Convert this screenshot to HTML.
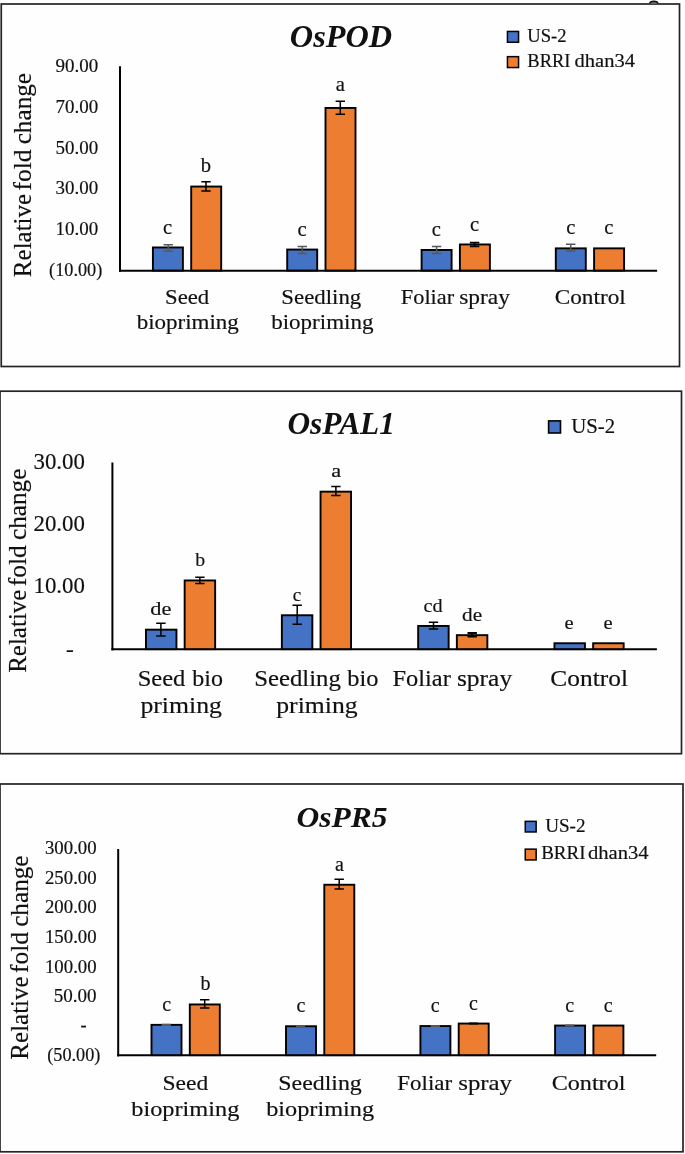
<!DOCTYPE html>
<html lang="en">
<head>
<meta charset="utf-8">
<title>Relative fold change of OsPOD, OsPAL1 and OsPR5</title>
<style>
html,body{margin:0;padding:0;background:#fff;}
body{width:685px;height:1154px;overflow:hidden;}
svg{display:block;font-family:"Liberation Serif","DejaVu Serif",serif;}
text{white-space:pre;stroke:#111;stroke-width:0.18px;stroke-linejoin:round;}text[font-weight=bold]{stroke:none;}
</style>
</head>
<body>
<svg width="685" height="1154" viewBox="0 0 685 1154" role="img" aria-label="Bar charts of relative fold change">
<rect x="1.25" y="4.00" width="678.25" height="362.50" fill="#fefefe" stroke="#242424" stroke-width="1.7"/>
<rect x="0.00" y="391.20" width="681.50" height="362.50" fill="#fefefe" stroke="#242424" stroke-width="1.7"/>
<rect x="0.00" y="784.00" width="683.00" height="367.80" fill="#fefefe" stroke="#242424" stroke-width="1.7"/>
<path d="M649.9 3.6A3.9 2.3 0 0 1 657.7 3.6" fill="#8a8a8a" stroke="#111" stroke-width="1.7"/>
<text transform="translate(289.85 47.20) scale(1.0420 1.0000)" font-size="31" font-weight="bold" font-style="italic" fill="#111">OsPOD</text>
<rect x="507.45" y="31.45" width="11.10" height="10.80" fill="#4472C4" stroke="#000" stroke-width="1.5"/>
<rect x="507.45" y="56.65" width="11.10" height="10.90" fill="#ED7D31" stroke="#000" stroke-width="1.5"/>
<text transform="translate(527.35 41.90) scale(1.0038 1.0000)" font-size="18.5" fill="#111">US-2</text>
<text y="66.90" font-size="18.5" fill="#111"><tspan x="527.35" textLength="43.20" lengthAdjust="spacingAndGlyphs">BRRI</tspan> <tspan x="574.55" textLength="60.50" lengthAdjust="spacingAndGlyphs">dhan34</tspan></text>
<text transform="translate(31.00 0) rotate(-90)" font-size="24.9" fill="#111"><tspan x="-277.15" textLength="83.30" lengthAdjust="spacingAndGlyphs">Relative</tspan> <tspan x="-190.45" textLength="40.90" lengthAdjust="spacingAndGlyphs">fold</tspan> <tspan x="-144.35" textLength="71.39" lengthAdjust="spacingAndGlyphs">change</tspan></text>
<text transform="translate(55.45 72.00) scale(0.9732 1.0000)" font-size="19.5" fill="#111">90.00</text>
<text transform="translate(55.45 112.80) scale(0.9732 1.0000)" font-size="19.5" fill="#111">70.00</text>
<text transform="translate(55.45 153.60) scale(0.9732 1.0000)" font-size="19.5" fill="#111">50.00</text>
<text transform="translate(55.45 194.40) scale(0.9732 1.0000)" font-size="19.5" fill="#111">30.00</text>
<text transform="translate(55.45 235.20) scale(0.9732 1.0000)" font-size="19.5" fill="#111">10.00</text>
<text transform="translate(49.05 276.00) scale(0.9374 1.0000)" font-size="19.5" fill="#111">(10.00)</text>
<line x1="120.00" y1="66.30" x2="120.00" y2="271.80" stroke="#000" stroke-width="2" stroke-linecap="butt"/>
<line x1="119.00" y1="270.70" x2="657.10" y2="270.70" stroke="#000" stroke-width="2.1" stroke-linecap="butt"/>
<rect x="152.90" y="247.45" width="30.00" height="23.10" fill="#4472C4" stroke="#000" stroke-width="1.9"/>
<rect x="191.20" y="186.55" width="30.00" height="84.00" fill="#ED7D31" stroke="#000" stroke-width="1.9"/>
<rect x="287.20" y="249.55" width="30.00" height="21.00" fill="#4472C4" stroke="#000" stroke-width="1.9"/>
<rect x="325.50" y="107.95" width="30.00" height="162.60" fill="#ED7D31" stroke="#000" stroke-width="1.9"/>
<rect x="421.60" y="249.95" width="30.00" height="20.60" fill="#4472C4" stroke="#000" stroke-width="1.9"/>
<rect x="459.90" y="244.45" width="30.00" height="26.10" fill="#ED7D31" stroke="#000" stroke-width="1.9"/>
<rect x="555.80" y="248.35" width="30.00" height="22.20" fill="#4472C4" stroke="#000" stroke-width="1.9"/>
<rect x="594.10" y="248.35" width="30.00" height="22.20" fill="#ED7D31" stroke="#000" stroke-width="1.9"/>
<path d="M163.50 244.80H172.90M163.50 251.00H172.90M168.20 244.80V251.00" stroke="#595959" stroke-width="1.5" fill="none"/>
<path d="M201.30 181.70H210.70M201.30 191.00H210.70M206.00 181.70V191.00" stroke="#000" stroke-width="1.5" fill="none"/>
<path d="M297.60 246.60H307.00M297.60 253.50H307.00M302.30 246.60V253.50" stroke="#595959" stroke-width="1.5" fill="none"/>
<path d="M335.60 101.30H345.00M335.60 114.20H345.00M340.30 101.30V114.20" stroke="#000" stroke-width="1.5" fill="none"/>
<path d="M431.90 246.60H441.30M431.90 253.50H441.30M436.60 246.60V253.50" stroke="#595959" stroke-width="1.5" fill="none"/>
<path d="M469.90 242.60H479.30M469.90 246.30H479.30M474.60 242.60V246.30" stroke="#000" stroke-width="1.8" fill="none"/>
<path d="M566.00 244.30H575.40M566.00 251.00H575.40M570.70 244.30V251.00" stroke="#595959" stroke-width="1.5" fill="none"/>
<text transform="translate(163.03 233.50) scale(1.0000 1.0000)" font-size="20.6" fill="#111">c</text>
<text transform="translate(200.85 171.70) scale(1.0000 1.0000)" font-size="20.6" fill="#111">b</text>
<text transform="translate(297.43 236.10) scale(1.0000 1.0000)" font-size="20.6" fill="#111">c</text>
<text transform="translate(335.83 91.00) scale(1.0000 1.0000)" font-size="20.6" fill="#111">a</text>
<text transform="translate(431.83 236.10) scale(1.0000 1.0000)" font-size="20.6" fill="#111">c</text>
<text transform="translate(470.03 230.70) scale(1.0000 1.0000)" font-size="20.6" fill="#111">c</text>
<text transform="translate(566.13 233.70) scale(1.0000 1.0000)" font-size="20.6" fill="#111">c</text>
<text transform="translate(604.33 233.70) scale(1.0000 1.0000)" font-size="20.6" fill="#111">c</text>
<text transform="translate(165.05 303.60) scale(1.0725 1.0000)" font-size="21.2" fill="#111">Seed</text>
<text transform="translate(136.65 329.20) scale(1.0848 1.0000)" font-size="21.2" fill="#111">biopriming</text>
<text transform="translate(281.35 303.80) scale(1.0782 1.0000)" font-size="21.2" fill="#111">Seedling</text>
<text transform="translate(271.15 329.20) scale(1.0869 1.0000)" font-size="21.2" fill="#111">biopriming</text>
<text y="303.80" font-size="21.2" fill="#111"><tspan x="400.85" textLength="53.29" lengthAdjust="spacingAndGlyphs">Foliar</tspan> <tspan x="459.15" textLength="50.80" lengthAdjust="spacingAndGlyphs">spray</tspan></text>
<text transform="translate(554.65 303.80) scale(1.0974 1.0000)" font-size="21.2" fill="#111">Control</text>
<text transform="translate(287.45 433.80) scale(1.0122 1.0000)" font-size="31" font-weight="bold" font-style="italic" fill="#111">OsPAL1</text>
<rect x="548.60" y="420.90" width="11.90" height="12.10" fill="#4472C4" stroke="#000" stroke-width="1.6"/>
<text transform="translate(571.15 433.20) scale(0.9925 1.0000)" font-size="21.0" fill="#111">US-2</text>
<text transform="translate(25.80 0) rotate(-90)" font-size="24.9" fill="#111"><tspan x="-672.85" textLength="83.30" lengthAdjust="spacingAndGlyphs">Relative</tspan> <tspan x="-586.15" textLength="40.90" lengthAdjust="spacingAndGlyphs">fold</tspan> <tspan x="-540.05" textLength="71.39" lengthAdjust="spacingAndGlyphs">change</tspan></text>
<text transform="translate(33.45 469.00) scale(0.9699 1.0000)" font-size="23.6" fill="#111">30.00</text>
<text transform="translate(33.45 531.10) scale(0.9699 1.0000)" font-size="23.6" fill="#111">20.00</text>
<text transform="translate(33.45 593.20) scale(0.9699 1.0000)" font-size="23.6" fill="#111">10.00</text>
<text transform="translate(65.95 656.80) scale(0.9925 1.0000)" font-size="23.6" fill="#111">-</text>
<line x1="112.40" y1="462.50" x2="112.40" y2="650.40" stroke="#000" stroke-width="2" stroke-linecap="butt"/>
<line x1="111.40" y1="649.30" x2="656.90" y2="649.30" stroke="#000" stroke-width="2.1" stroke-linecap="butt"/>
<rect x="145.95" y="629.65" width="30.50" height="19.50" fill="#4472C4" stroke="#000" stroke-width="1.9"/>
<rect x="184.65" y="580.45" width="30.50" height="68.70" fill="#ED7D31" stroke="#000" stroke-width="1.9"/>
<rect x="281.85" y="615.25" width="30.50" height="33.90" fill="#4472C4" stroke="#000" stroke-width="1.9"/>
<rect x="320.55" y="491.65" width="30.50" height="157.50" fill="#ED7D31" stroke="#000" stroke-width="1.9"/>
<rect x="418.15" y="625.95" width="30.50" height="23.20" fill="#4472C4" stroke="#000" stroke-width="1.9"/>
<rect x="456.85" y="635.15" width="30.50" height="14.00" fill="#ED7D31" stroke="#000" stroke-width="1.9"/>
<rect x="554.45" y="643.25" width="30.50" height="5.90" fill="#4472C4" stroke="#000" stroke-width="1.9"/>
<rect x="593.15" y="643.25" width="30.50" height="5.90" fill="#ED7D31" stroke="#000" stroke-width="1.9"/>
<path d="M156.20 623.20H165.60M156.20 635.90H165.60M160.90 623.20V635.90" stroke="#000" stroke-width="1.5" fill="none"/>
<path d="M195.20 577.20H204.60M195.20 583.50H204.60M199.90 577.20V583.50" stroke="#000" stroke-width="1.5" fill="none"/>
<path d="M292.50 605.30H301.90M292.50 624.30H301.90M297.20 605.30V624.30" stroke="#000" stroke-width="1.5" fill="none"/>
<path d="M331.20 486.60H340.60M331.20 495.60H340.60M335.90 486.60V495.60" stroke="#000" stroke-width="1.5" fill="none"/>
<path d="M428.80 622.30H438.20M428.80 629.00H438.20M433.50 622.30V629.00" stroke="#000" stroke-width="1.5" fill="none"/>
<path d="M467.50 633.00H476.90M467.50 636.60H476.90M472.20 633.00V636.60" stroke="#000" stroke-width="1.8" fill="none"/>
<text transform="translate(150.35 615.20) scale(1.1404 1.0000)" font-size="19.6" fill="#111">de</text>
<text transform="translate(195.25 566.20) scale(1.0102 1.0000)" font-size="19.6" fill="#111">b</text>
<text transform="translate(331.25 477.20) scale(1.1376 1.0000)" font-size="19.6" fill="#111">a</text>
<text transform="translate(292.75 601.00) scale(0.9767 1.0000)" font-size="19.6" fill="#111">c</text>
<text transform="translate(423.55 611.70) scale(1.0323 1.0000)" font-size="19.6" fill="#111">cd</text>
<text transform="translate(462.05 620.50) scale(1.0863 1.0000)" font-size="19.6" fill="#111">de</text>
<text transform="translate(564.55 629.00) scale(1.0457 1.0000)" font-size="19.6" fill="#111">e</text>
<text transform="translate(603.45 629.00) scale(1.0457 1.0000)" font-size="19.6" fill="#111">e</text>
<text y="685.70" font-size="22.8" fill="#111"><tspan x="137.65" textLength="47.70" lengthAdjust="spacingAndGlyphs">Seed</tspan> <tspan x="192.25" textLength="30.70" lengthAdjust="spacingAndGlyphs">bio</tspan></text>
<text transform="translate(140.45 713.20) scale(1.1287 1.0000)" font-size="22.8" fill="#111">priming</text>
<text y="685.70" font-size="22.8" fill="#111"><tspan x="254.15" textLength="86.69" lengthAdjust="spacingAndGlyphs">Seedling</tspan> <tspan x="347.35" textLength="31.10" lengthAdjust="spacingAndGlyphs">bio</tspan></text>
<text transform="translate(276.25 713.20) scale(1.1273 1.0000)" font-size="22.8" fill="#111">priming</text>
<text y="685.50" font-size="22.8" fill="#111"><tspan x="392.55" textLength="58.29" lengthAdjust="spacingAndGlyphs">Foliar</tspan> <tspan x="456.95" textLength="55.20" lengthAdjust="spacingAndGlyphs">spray</tspan></text>
<text transform="translate(550.35 685.90) scale(1.1151 1.0000)" font-size="22.8" fill="#111">Control</text>
<text transform="translate(296.45 826.50) scale(1.0327 1.0000)" font-size="30.5" font-weight="bold" font-style="italic" fill="#111">OsPR5</text>
<rect x="525.25" y="821.35" width="10.90" height="10.60" fill="#4472C4" stroke="#000" stroke-width="1.5"/>
<rect x="525.25" y="849.15" width="10.90" height="10.80" fill="#ED7D31" stroke="#000" stroke-width="1.5"/>
<text transform="translate(545.15 831.80) scale(1.0345 1.0000)" font-size="18.5" fill="#111">US-2</text>
<text y="858.90" font-size="18.5" fill="#111"><tspan x="541.15" textLength="44.40" lengthAdjust="spacingAndGlyphs">BRRI</tspan> <tspan x="587.95" textLength="60.70" lengthAdjust="spacingAndGlyphs">dhan34</tspan></text>
<text transform="translate(27.90 0) rotate(-90)" font-size="24.9" fill="#111"><tspan x="-1059.65" textLength="83.30" lengthAdjust="spacingAndGlyphs">Relative</tspan> <tspan x="-972.95" textLength="40.90" lengthAdjust="spacingAndGlyphs">fold</tspan> <tspan x="-926.85" textLength="71.39" lengthAdjust="spacingAndGlyphs">change</tspan></text>
<text transform="translate(44.95 854.30) scale(0.9641 1.0000)" font-size="19.5" fill="#111">300.00</text>
<text transform="translate(44.95 883.85) scale(0.9641 1.0000)" font-size="19.5" fill="#111">250.00</text>
<text transform="translate(44.95 913.40) scale(0.9641 1.0000)" font-size="19.5" fill="#111">200.00</text>
<text transform="translate(44.95 942.95) scale(0.9641 1.0000)" font-size="19.5" fill="#111">150.00</text>
<text transform="translate(44.95 972.50) scale(0.9641 1.0000)" font-size="19.5" fill="#111">100.00</text>
<text transform="translate(53.75 1002.05) scale(0.9778 1.0000)" font-size="19.5" fill="#111">50.00</text>
<text transform="translate(80.45 1030.60) scale(0.9394 1.0000)" font-size="19.5" fill="#111">-</text>
<text transform="translate(47.25 1061.15) scale(0.9356 1.0000)" font-size="19.5" fill="#111">(50.00)</text>
<line x1="118.20" y1="849.00" x2="118.20" y2="1056.40" stroke="#000" stroke-width="2" stroke-linecap="butt"/>
<line x1="117.20" y1="1055.30" x2="656.20" y2="1055.30" stroke="#000" stroke-width="2.1" stroke-linecap="butt"/>
<rect x="151.50" y="1024.85" width="30.00" height="30.30" fill="#4472C4" stroke="#000" stroke-width="1.9"/>
<rect x="189.80" y="1004.45" width="30.00" height="50.70" fill="#ED7D31" stroke="#000" stroke-width="1.9"/>
<rect x="286.00" y="1026.25" width="30.00" height="28.90" fill="#4472C4" stroke="#000" stroke-width="1.9"/>
<rect x="324.30" y="884.75" width="30.00" height="170.40" fill="#ED7D31" stroke="#000" stroke-width="1.9"/>
<rect x="420.40" y="1026.05" width="30.00" height="29.10" fill="#4472C4" stroke="#000" stroke-width="1.9"/>
<rect x="458.70" y="1023.55" width="30.00" height="31.60" fill="#ED7D31" stroke="#000" stroke-width="1.9"/>
<rect x="555.10" y="1025.55" width="30.00" height="29.60" fill="#4472C4" stroke="#000" stroke-width="1.9"/>
<rect x="593.40" y="1025.55" width="30.00" height="29.60" fill="#ED7D31" stroke="#000" stroke-width="1.9"/>
<path d="M161.70 1024.30H170.90M161.70 1025.50H170.90M166.30 1024.30V1025.50" stroke="#595959" stroke-width="1.2" fill="none"/>
<path d="M200.00 999.80H209.40M200.00 1008.00H209.40M204.70 999.80V1008.00" stroke="#000" stroke-width="1.5" fill="none"/>
<path d="M296.00 1025.70H305.20M296.00 1026.70H305.20M300.60 1025.70V1026.70" stroke="#595959" stroke-width="1.2" fill="none"/>
<path d="M334.50 879.30H343.90M334.50 889.10H343.90M339.20 879.30V889.10" stroke="#000" stroke-width="1.5" fill="none"/>
<path d="M430.70 1025.50H439.90M430.70 1026.50H439.90M435.30 1025.50V1026.50" stroke="#595959" stroke-width="1.2" fill="none"/>
<path d="M468.90 1023.00H478.10M468.90 1024.00H478.10M473.50 1023.00V1024.00" stroke="#000" stroke-width="1.2" fill="none"/>
<path d="M565.00 1025.00H574.20M565.00 1026.00H574.20M569.60 1025.00V1026.00" stroke="#595959" stroke-width="1.2" fill="none"/>
<text transform="translate(162.16 1011.40) scale(1.0000 1.0000)" font-size="20.0" fill="#111">c</text>
<text transform="translate(200.40 990.20) scale(1.0000 1.0000)" font-size="20.0" fill="#111">b</text>
<text transform="translate(296.46 1012.00) scale(1.0000 1.0000)" font-size="20.0" fill="#111">c</text>
<text transform="translate(335.06 870.50) scale(1.0000 1.0000)" font-size="20.0" fill="#111">a</text>
<text transform="translate(430.86 1012.00) scale(1.0000 1.0000)" font-size="20.0" fill="#111">c</text>
<text transform="translate(469.06 1009.90) scale(1.0000 1.0000)" font-size="20.0" fill="#111">c</text>
<text transform="translate(565.16 1011.60) scale(1.0000 1.0000)" font-size="20.0" fill="#111">c</text>
<text transform="translate(603.76 1011.60) scale(1.0000 1.0000)" font-size="20.0" fill="#111">c</text>
<text transform="translate(162.55 1089.60) scale(1.1089 1.0000)" font-size="21.2" fill="#111">Seed</text>
<text transform="translate(131.25 1116.20) scale(1.1485 1.0000)" font-size="21.2" fill="#111">biopriming</text>
<text transform="translate(278.35 1089.80) scale(1.1253 1.0000)" font-size="21.2" fill="#111">Seedling</text>
<text transform="translate(266.15 1116.20) scale(1.1463 1.0000)" font-size="21.2" fill="#111">biopriming</text>
<text y="1089.80" font-size="21.2" fill="#111"><tspan x="397.35" textLength="54.79" lengthAdjust="spacingAndGlyphs">Foliar</tspan> <tspan x="458.25" textLength="53.80" lengthAdjust="spacingAndGlyphs">spray</tspan></text>
<text transform="translate(551.65 1089.80) scale(1.1391 1.0000)" font-size="21.2" fill="#111">Control</text>
</svg>
</body>
</html>
